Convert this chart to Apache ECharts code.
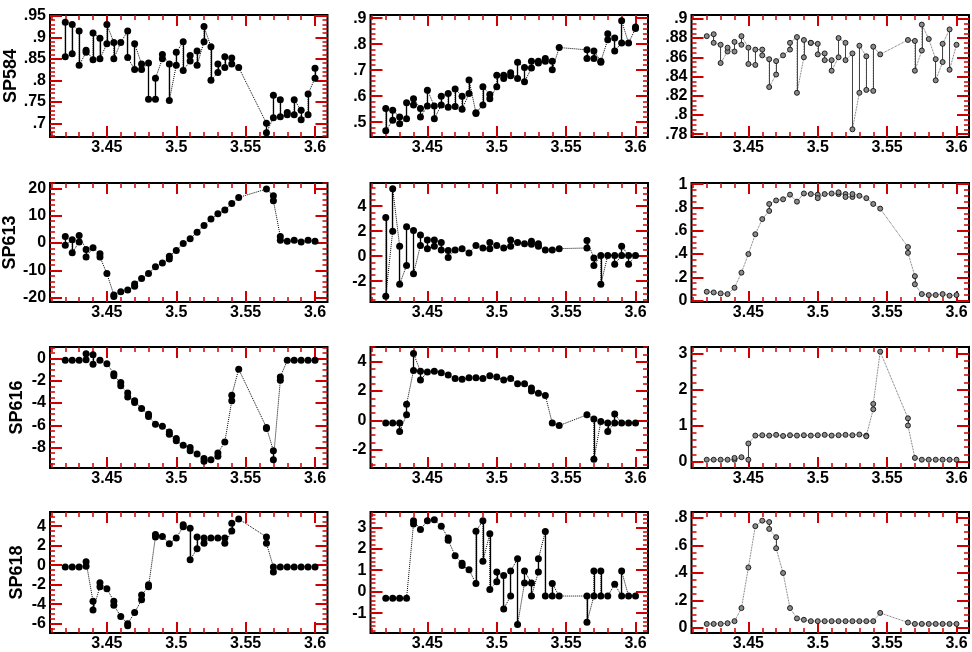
<!DOCTYPE html>
<html>
<head>
<meta charset="utf-8">
<script src="https://cdn.jsdelivr.net/npm/echarts@6/dist/echarts.min.js"></script>
<style>
  html, body { margin: 0; padding: 0; background: #fff; }
  #chart { width: 972px; height: 652px; }
</style>
</head>
<body>
<div id="chart"></div>
<script>
// Sample positions shared by every panel (no samples between 3.545 and 3.565)
const XS = [3.42, 3.425, 3.43, 3.435, 3.44, 3.445, 3.45, 3.455, 3.46, 3.465, 3.47, 3.475, 3.48,
            3.485, 3.49, 3.495, 3.5, 3.505, 3.51, 3.515, 3.52, 3.525, 3.53, 3.535, 3.54, 3.545,
            3.565, 3.57, 3.575, 3.58, 3.585, 3.59, 3.595, 3.6];
const X_TICKS = [3.45, 3.5, 3.55, 3.6];
const X_RANGE = [3.409, 3.609];
const X_MINOR = 0.01;

// Each panel: first reading (a) and, where present, second reading (b) at the same position
const sp584_c1_a = [.935,.93,.915,.87,.91,.898,.93,.888,.888,.915,.885,.838,.84,.805,.86,.838,.865,.89,.858,.868,.925,.878,.838,.855,.852,.83, .70,.765,.755,.725,.755,.73,.768,.828];
const sp584_c1_b = [.855,.862,.835,.865,.848,.85,.885,.85,null,.853,.825,.825,.756,.756,.85,.753,.835,.823,.845,.835,.89,.80,.818,.83,.838,null, .678,.713,.715,.72,.72,.708,.72,.805];

const sp584_c2_a = [.553,.546,.52,.575,.59,.553,.623,.562,.6,.61,.628,.6,.662,.536,.636,.606,.68,.68,.69,.73,.71,.734,.734,.745,.734,.787, .778,.774,.734,.84,.824,.89,.804,.866];
const sp584_c2_b = [.467,.507,.494,.513,.566,.52,.562,.513,.566,.557,.56,.55,.61,.533,.566,.59,.636,.668,.678,.668,.655,.708,.727,.734,.702,null, .745,.745,.73,.817,.774,.804,null,.86];

const sp584_c3_a = [.882,.884,.873,.87,.876,.882,.87,.868,.868,.858,.856,.862,.875,.881,.878,.875,.874,.864,.857,.88,.875,.864,.872,.861,.871,.863, .878,.877,.894,.879,.858,.874,.889,.873];
const sp584_c3_b = [null,.875,.854,.866,.866,.873,.853,.852,.862,.829,.842,null,.868,.823,.86,.875,.863,.857,.846,.86,.857,.785,.823,.826,.825,null, null,.846,.867,null,.836,.855,.847,null];

const sp613_c1_a = [2.4,1.2,2.8,-2.4,-1.7,-3.9,-11.2,-19,-17.8,-17.2,-15,-13,-11.2,-8.7,-7.3,-4.8,-2.7,-0.2,1.6,4,6.4,8.8,10.7,12.1,14.5,16.7, 19.8,17.3,2.4,0.7,1,0.4,1,0.7];
const sp613_c1_b = [-0.8,-3.6,0.4,-5.1,null,-5.1,null,-19.6,null,null,-15.8,null,null,null,null,-5.8,null,null,null,null,null,null,null,null,null,null, null,15.5,1,null,null,null,null,null];

const sp613_c2_a = [3.1,5.4,0.8,2.35,2.05,1.7,1.3,1.3,1.1,0.45,0.5,0.6,0.25,0.85,0.65,1.1,0.85,0.65,1.3,1.1,1.0,1.2,1.0,0.5,0.5,0.6, 1.25,-0.15,0.05,0.05,0.05,0.05,0.05,0.05];
const sp613_c2_b = [-3.2,2.0,-2.25,-0.75,-1.4,0.85,0.6,0.8,0.5,-0.1,null,null,null,null,null,0.6,null,null,0.8,null,null,0.95,0.8,null,null,null, 0.65,-0.75,-2.25,null,-0.65,0.8,-0.65,null];

const sp613_c3_a = [.076,.07,.062,.056,.11,.24,.4,.57,.7,.83,.86,.87,.91,.85,.92,.915,.91,.915,.92,.93,.915,.915,.9,.88,.83,.79, .46,.21,.056,.048,.048,.056,.042,.048];
const sp613_c3_b = [null,null,null,null,null,null,null,null,null,.77,null,null,null,null,null,null,.88,null,null,.915,.89,.89,null,null,null,null, .41,.14,null,null,null,null,null,null];

const sp616_c1_a = [-0.15,-0.15,-0.15,0.45,0.35,-0.15,-0.45,-1.35,-2.15,-3.1,-3.8,-4.5,-5.0,-5.9,-6.1,-6.6,-7.2,-7.8,-8.0,-8.6,-9.0,-9.1,-8.5,-7.5,-3.3,-0.95, -6.2,-8.3,-1.65,-0.15,-0.15,-0.15,-0.15,-0.15];
const sp616_c1_b = [null,null,null,-0.1,-0.5,null,null,-1.55,-2.45,-3.45,-3.95,null,-5.2,null,null,-6.8,-7.4,null,-8.3,null,-9.25,null,-8.8,null,-3.8,null, -6.3,-9.1,-1.95,null,null,null,null,null];

const sp616_c2_a = [-0.18,-0.18,-0.18,1.1,4.55,3.35,3.3,3.35,3.25,3.1,2.85,2.8,2.9,2.9,2.85,3.05,2.95,2.75,2.85,2.5,2.5,2.2,1.85,1.7,-0.18,-0.35, 0.38,0.1,-0.07,-0.18,0.43,-0.18,-0.18,-0.18];
const sp616_c2_b = [null,null,-0.75,0.38,3.4,2.75,null,null,null,null,null,null,null,null,null,null,null,null,null,null,null,2.0,null,null,null,null, null,-2.65,null,-0.75,-0.18,null,null,null];

const sp616_c3_a = [.05,.05,.05,.05,.05,.12,.05,.72,.73,.72,.74,.71,.73,.72,.73,.72,.73,.74,.72,.73,.74,.73,.75,.72,1.6,3.05, 1.2,0.1,.05,.05,.05,.05,.05,.05];
const sp616_c3_b = [null,null,null,null,.1,null,.5,null,null,null,null,null,null,null,null,null,null,null,null,null,null,null,null,.70,1.45,null, 1.0,null,null,null,null,null,null,null];

const sp618_c1_a = [-0.17,-0.17,-0.17,-0.1,-3.7,-1.8,-2.4,-3.7,-5.25,-6.0,-4.85,-3.05,-2.0,3.15,2.95,2.2,2.8,4.15,3.8,2.9,2.8,2.8,2.8,2.8,4.3,4.75, 2.9,-0.17,-0.17,-0.17,-0.17,-0.17,-0.17,-0.17];
const sp618_c1_b = [null,null,null,0.35,-4.6,-2.2,null,-4.1,null,-6.2,null,-3.55,-2.2,2.9,null,null,null,3.95,0.55,1.7,2.25,null,null,2.25,3.5,null, 2.25,-0.7,null,null,null,null,null,null];

const sp618_c2_a = [-0.3,-0.3,-0.3,-0.3,3.3,2.9,3.3,3.35,3.05,2.5,1.68,1.33,1.02,2.82,3.3,2.7,0.92,0.76,0.96,1.53,0.96,0.41,1.53,2.8,0.38,-0.2, -0.2,0.96,0.96,-0.2,0.35,0.96,-0.2,-0.2];
const sp618_c2_b = [null,null,null,null,3.15,null,null,null,null,2.4,null,1.22,null,0.38,1.42,0.1,0.46,-0.8,-0.2,-1.53,0.41,-0.2,0.92,-0.2,-0.2,null, -1.42,-0.2,-0.2,null,null,-0.2,null,null];

const sp618_c3_a = [.03,.03,.03,.035,.05,.145,.44,.74,.78,.77,.66,.4,.145,.07,.06,.05,.05,.05,.05,.05,.05,.05,.05,.05,.05,.11, .04,.03,.03,.03,.03,.03,.03,.03];
const sp618_c3_b = [null,null,null,null,null,null,null,null,null,.72,.58,null,null,null,null,null,null,null,null,null,null,null,null,null,null,null, null,null,null,null,null,null,null,null];

// Row titles and per-panel y scales
const ROW_NAMES = ['SP584', 'SP613', 'SP616', 'SP618'];
const Y_RANGES = [[0.668, 0.952], [0.443, 0.912], [0.777, 0.904],
                  [-21.6, 22], [-3.67, 5.85], [-0.012, 1.01],
                  [-9.85, 1.05], [-3.24, 5.0], [-0.18, 3.18],
                  [-6.95, 5.46], [-1.92, 3.71], [-0.036, 0.843]];
const Y_TICKS = [[.7, .75, .8, .85, .9, .95], [.5, .6, .7, .8, .9], [.78, .8, .82, .84, .86, .88, .9],
                 [-20, -10, 0, 10, 20], [-2, 0, 2, 4], [0, .2, .4, .6, .8, 1],
                 [-8, -6, -4, -2, 0], [-2, 0, 2, 4], [0, 1, 2, 3],
                 [-6, -4, -2, 0, 2, 4], [-1, 0, 1, 2, 3], [0, .2, .4, .6, .8]];
const Y_MINOR = [.01, .02, .005, 2, .5, .05, .5, .5, .2, .5, .2, .05];

const PANEL_A = [sp584_c1_a, sp584_c2_a, sp584_c3_a, sp613_c1_a, sp613_c2_a, sp613_c3_a,
                 sp616_c1_a, sp616_c2_a, sp616_c3_a, sp618_c1_a, sp618_c2_a, sp618_c3_a];
const PANEL_B = [sp584_c1_b, sp584_c2_b, sp584_c3_b, sp613_c1_b, sp613_c2_b, sp613_c3_b,
                 sp616_c1_b, sp616_c2_b, sp616_c3_b, sp618_c1_b, sp618_c2_b, sp618_c3_b];

// Layout
const COL_LEFT = [50, 370.5, 691.5];
const PANEL_W = 277.5;
const ROW_TOP = [15, 183, 347, 512];
const ROW_H = [122, 119, 121, 123];
const TICK_COLOR = '#d00000';

const FONT = 'Liberation Sans, Arial, Helvetica, sans-serif';

function steps(min, max, step) {
  const out = [];
  const s = Math.ceil(min / step - 1e-9);
  for (let k = s; k * step <= max + 1e-9; k++) out.push(+(k * step).toFixed(6));
  return out;
}
function fmt(v) {
  return String(v).replace(/^0\./, '.').replace(/^-0\./, '-.');
}

const grids = [], xAxes = [], yAxes = [], series = [];
const labelStyle = { color: '#000', fontFamily: FONT, fontWeight: 'bold', fontSize: 16 };

PANEL_A.forEach((aVals, i) => {
  const r = Math.floor(i / 3), c = i % 3;
  const bVals = PANEL_B[i];
  grids.push({
    left: COL_LEFT[c], top: ROW_TOP[r], width: PANEL_W, height: ROW_H[r],
    show: true, borderColor: '#000', borderWidth: 2
  });

  const xMinor = steps(X_RANGE[0], X_RANGE[1], X_MINOR);
  const yMinor = steps(Y_RANGES[i][0], Y_RANGES[i][1], Y_MINOR[i]);
  const tick = (vals, len, w) => ({
    show: true, inside: true, length: len, customValues: vals,
    lineStyle: { color: TICK_COLOR, width: w }
  });

  // x axes: bottom major (labelled), bottom minor, top major, top minor
  ['bottom', 'bottom', 'top', 'top'].forEach((pos, k) => {
    const major = k % 2 === 0;
    xAxes.push({
      type: 'value', gridIndex: i, position: pos,
      min: X_RANGE[0], max: X_RANGE[1],
      axisLine: { show: false, onZero: false }, splitLine: { show: false },
      axisTick: tick(major ? X_TICKS : xMinor, major ? 11 : 5, major ? 2 : 1.5),
      axisLabel: k === 0
        ? Object.assign({ show: true, customValues: X_TICKS, margin: 3, formatter: fmt }, labelStyle)
        : { show: false }
    });
  });

  // y axes: left major (labelled), left minor, right major, right minor
  ['left', 'left', 'right', 'right'].forEach((pos, k) => {
    const major = k % 2 === 0;
    const ax = {
      type: 'value', gridIndex: i, position: pos,
      min: Y_RANGES[i][0], max: Y_RANGES[i][1],
      axisLine: { show: false, onZero: false }, splitLine: { show: false },
      axisTick: tick(major ? Y_TICKS[i] : yMinor, major ? 12 : 5, major ? 2 : 1.5),
      axisLabel: k === 0
        ? Object.assign({ show: true, customValues: Y_TICKS[i], margin: 4, formatter: fmt }, labelStyle)
        : { show: false }
    };
    if (k === 0 && c === 0) {
      ax.name = ROW_NAMES[r];
      ax.nameLocation = 'middle';
      ax.nameRotate = 90;
      ax.nameGap = 24;
      ax.nameTextStyle = { color: '#000', fontFamily: FONT, fontWeight: 'bold', fontSize: 18 };
    }
    yAxes.push(ax);
  });

  // Path through every reading in order, plus solid bars joining paired readings
  const path = [], pairs = [];
  let prev = null;
  XS.forEach((x, k) => {
    const a = aVals[k], b = bVals[k];
    if (a == null) return;
    if (b == null) { path.push([x, a]); prev = a; return; }
    let first = a, second = b;
    if (prev != null && Math.abs(b - prev) < Math.abs(a - prev)) { first = b; second = a; }
    path.push([x, first], [x, second]);
    prev = second;
    pairs.push({ coords: [[x, a], [x, b]] });
  });

  const faint = c === 2;
  const ink = faint ? '#3a3a3a' : '#000';
  series.push({
    type: 'lines', coordinateSystem: 'cartesian2d',
    xAxisIndex: i * 4, yAxisIndex: i * 4,
    data: pairs,
    lineStyle: { color: ink, width: faint ? 0.9 : 1.3, opacity: 1 }
  });
  series.push({
    type: 'line', xAxisIndex: i * 4, yAxisIndex: i * 4,
    data: path,
    symbol: 'circle', symbolSize: faint ? 5 : 7, showSymbol: true,
    lineStyle: { color: ink, width: faint ? 0.8 : 1, type: 'dotted' },
    itemStyle: faint
      ? { color: '#8a8a8a', borderColor: '#111', borderWidth: 0.9 }
      : { color: '#000' }
  });
});

const chart = echarts.init(document.getElementById('chart'));
chart.setOption({
  animation: false,
  grid: grids,
  xAxis: xAxes,
  yAxis: yAxes,
  series: series
});
</script>
</body>
</html>
